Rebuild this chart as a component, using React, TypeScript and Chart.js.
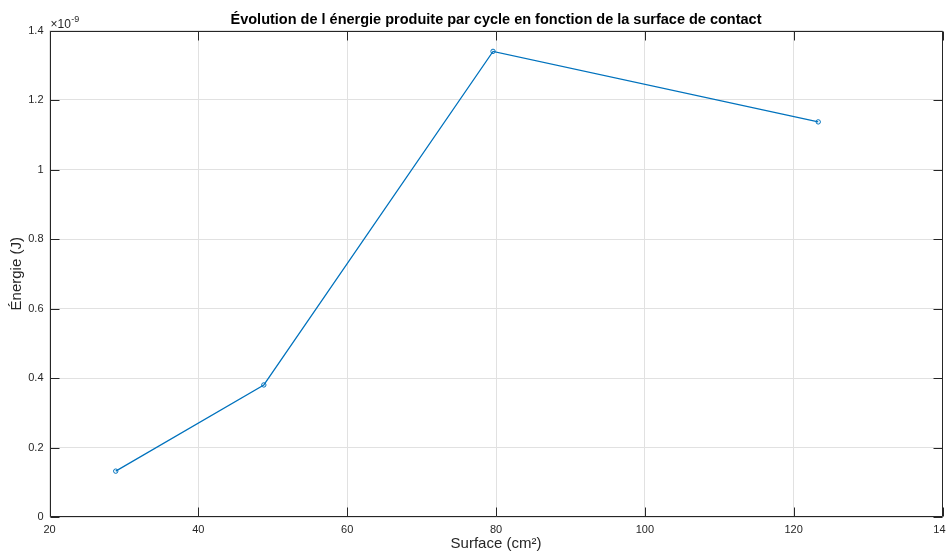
import React, { useEffect, useRef } from "react";
import { Chart, registerables } from "chart.js";

Chart.register(...registerables);

const titleText = "Évolution de l énergie produite par cycle en fonction de la surface de contact";
const xAxisLabel = "Surface (cm²)";
const yAxisLabel = "Énergie (J)";
const surfaceCm2 = [28.9, 48.8, 79.6, 123.3];
const energyNanoJ = [0.132, 0.38, 1.34, 1.137];
const xRange = [20, 140];
const yRange = [0, 1.4];

const FONT = "'Liberation Sans', Arial, Helvetica, sans-serif";
const AX = "#262626";

const W = 970;
const H = 552;
const PLOT_LEFT = 49.5;
const PLOT_RIGHT = 942.5;
const PLOT_TOP = 30.5;
const PLOT_BOTTOM = 517;

const matlabPlugin = {
  id: "matlabBox",
  afterDraw(chart: any) {
    const ctx = chart.ctx;
    const { left, right, top, bottom } = chart.chartArea;
    const xs = chart.scales.x;
    const ys = chart.scales.y;
    ctx.save();
    ctx.strokeStyle = AX;
    ctx.lineWidth = 1;
    const L = Math.round(left) + 0.5;
    const R = Math.round(right) - 0.5;
    const T = Math.round(top) + 0.5;
    const B = Math.round(bottom) - 0.5;
    ctx.beginPath();
    ctx.rect(L, T, R - L, B - T);
    ctx.stroke();
    const tl = 9;
    ctx.beginPath();
    xs.ticks.forEach((t: any) => {
      const px = Math.round(xs.getPixelForValue(t.value)) + 0.5;
      ctx.moveTo(px, B);
      ctx.lineTo(px, B - tl);
      ctx.moveTo(px, T);
      ctx.lineTo(px, T + tl);
    });
    ys.ticks.forEach((t: any) => {
      const py = Math.round(ys.getPixelForValue(t.value)) + 0.5;
      ctx.moveTo(L, py);
      ctx.lineTo(L + tl, py);
      ctx.moveTo(R, py);
      ctx.lineTo(R - tl, py);
    });
    ctx.stroke();

    // title
    ctx.fillStyle = "#000";
    ctx.font = `bold 14.5px ${FONT}`;
    ctx.textAlign = "center";
    ctx.textBaseline = "alphabetic";
    ctx.fillText(titleText, (left + right) / 2, 24);

    // exponent
    ctx.fillStyle = AX;
    ctx.textAlign = "left";
    ctx.font = `12px ${FONT}`;
    const base = "×10";
    ctx.fillText(base, left + 1, 28);
    const bw = ctx.measureText(base).width;
    ctx.font = `9px ${FONT}`;
    ctx.fillText("-9", left + 1 + bw + 0.5, 22);
    ctx.restore();
  },
};

export default function App() {
  const ref = useRef<HTMLCanvasElement | null>(null);
  useEffect(() => {
    document.body.style.margin = "0";
    const canvas = ref.current;
    if (!canvas) return;
    const chart = new Chart(canvas, {
      type: "line",
      data: {
        datasets: [
          {
            data: surfaceCm2.map((x, i) => ({ x, y: energyNanoJ[i] })),
            borderColor: "#0072BD",
            borderWidth: 1.2,
            pointRadius: 2.2,
            pointBorderWidth: 1,
            pointBorderColor: "#0072BD",
            pointBackgroundColor: "rgba(255,255,255,0)",
            tension: 0,
            fill: false,
          },
        ],
      },
      options: {
        animation: false,
        responsive: false,
        devicePixelRatio: 1,
        layout: { padding: { left: 0, top: PLOT_TOP, right: W - PLOT_RIGHT, bottom: 0 } },
        plugins: { legend: { display: false }, title: { display: false }, tooltip: { enabled: false } },
        scales: {
          x: {
            type: "linear",
            min: xRange[0],
            max: xRange[1],
            afterFit: (s: any) => {
              s.height = H - PLOT_BOTTOM;
            },
            ticks: {
              stepSize: 20,
              color: AX,
              font: { family: FONT, size: 11 },
              padding: 6,
              maxRotation: 0,
              callback: (v: any) => String(v),
            },
            grid: { color: "#e1e1e1", lineWidth: 1, drawTicks: false },
            border: { display: false },
            title: {
              display: true,
              text: xAxisLabel,
              color: AX,
              font: { family: FONT, size: 15 },
              padding: { top: 0, bottom: -1 },
            },
          },
          y: {
            type: "linear",
            min: yRange[0],
            max: yRange[1],
            afterFit: (s: any) => {
              s.width = PLOT_LEFT;
            },
            ticks: {
              stepSize: 0.2,
              color: AX,
              font: { family: FONT, size: 11 },
              padding: 6,
              callback: (v: any) => String(+Number(v).toFixed(1)),
            },
            grid: { color: "#e1e1e1", lineWidth: 1, drawTicks: false },
            border: { display: false },
            title: {
              display: true,
              text: yAxisLabel,
              color: AX,
              font: { family: FONT, size: 15 },
              padding: { top: 8, bottom: 0 },
            },
          },
        },
      },
      plugins: [matlabPlugin],
    });
    return () => chart.destroy();
  }, []);
  return (
    <div style={{ width: 946, height: H, overflow: "hidden", position: "relative", background: "#fff" }}>
      <canvas ref={ref} width={W} height={H} style={{ display: "block", width: W, height: H }} />
    </div>
  );
}
